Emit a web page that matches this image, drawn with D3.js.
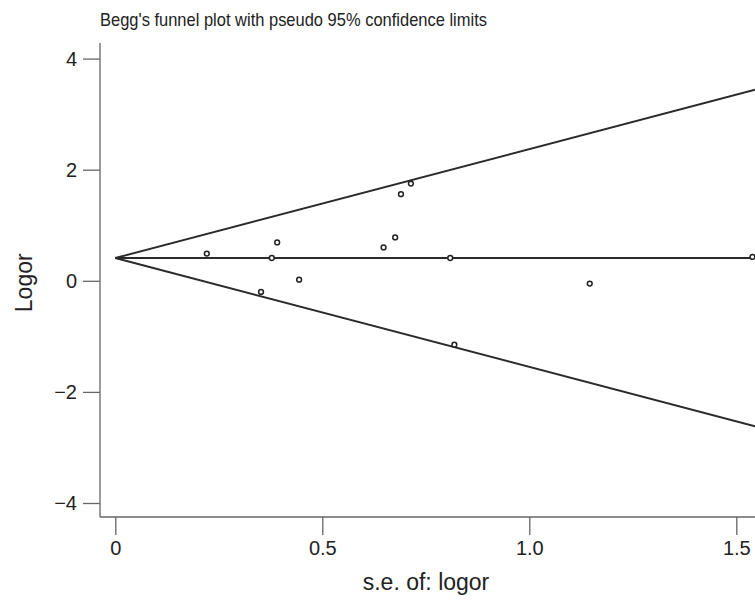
<!DOCTYPE html>
<html>
<head>
<meta charset="utf-8">
<script src="https://d3js.org/d3.v7.min.js"></script>
<style>
  body { margin: 0; background: #fff; }
  text { font-family: "Liberation Sans", Arial, sans-serif; fill: #222; }
</style>
</head>
<body>
<div id="chart"></div>
<script>
// study data
var studySE = [0.221, 0.391, 0.378, 0.352, 0.444, 0.648, 0.676, 0.690, 0.714, 0.809, 0.819, 1.146, 1.539];
var studyLogor = [0.49, 0.69, 0.41, -0.20, 0.02, 0.60, 0.78, 1.56, 1.75, 0.41, -1.15, -0.05, 0.43];
var pooledLogor = 0.41;
var xTicks = [0, 0.5, 1.0, 1.5];
var xTickLabels = ['0', '0.5', '1.0', '1.5'];
var yTicks = [4, 2, 0, -2, -4];

var svgWidth = 755;
var svgHeight = 605;

var svg = d3.select('#chart')
    .append('svg')
    .attr('width', svgWidth)
    .attr('height', svgHeight);

var xScale = d3.scaleLinear()
    .domain([0, 1.5])
    .range([115.3, 736.3]);

var yScale = d3.scaleLinear()
    .domain([-4, 4])
    .range([503, 58.6]);

var xLeft = 100, xRight = 755;
var yTop = 43, yBottom = 517;
var seMax = xScale.invert(xRight);
var fontFam = '"Liberation Sans", Arial, sans-serif';

// title (narrow face in the original, so squeeze it a little)
svg.append('text')
    .attr('x', 100)
    .attr('y', 26)
    .attr('font-size', '19px')
    .attr('textLength', 387)
    .attr('lengthAdjust', 'spacingAndGlyphs')
    .text("Begg's funnel plot with pseudo 95% confidence limits");

// axes
var axisColor = '#666';
var bottomAxis = d3.axisBottom(xScale)
    .tickValues(xTicks)
    .tickFormat((d, i) => xTickLabels[i])
    .tickSize(18)
    .tickPadding(6)
    .tickSizeOuter(0);

var gx = svg.append('g')
    .attr('transform', `translate(0, ${yBottom})`)
    .call(bottomAxis);
gx.select('.domain').remove();
gx.append('line')
    .attr('x1', xLeft).attr('x2', xRight)
    .attr('stroke', axisColor).attr('stroke-width', 1.3);
gx.selectAll('.tick line').attr('stroke', axisColor).attr('stroke-width', 1.3);
gx.selectAll('.tick text')
    .attr('font-size', '20px')
    .attr('font-family', fontFam)
    .attr('fill', '#222');

var leftAxis = d3.axisLeft(yScale)
    .tickValues(yTicks)
    .tickFormat(d => d < 0 ? '\u2212' + Math.abs(d) : d)
    .tickSize(17)
    .tickPadding(6)
    .tickSizeOuter(0);

var gy = svg.append('g')
    .attr('transform', `translate(${xLeft}, 0)`)
    .call(leftAxis);
gy.select('.domain').remove();
gy.append('line')
    .attr('y1', yTop).attr('y2', yBottom)
    .attr('stroke', axisColor).attr('stroke-width', 1.3);
gy.selectAll('.tick line').attr('stroke', axisColor).attr('stroke-width', 1.3);
gy.selectAll('.tick text')
    .attr('font-size', '20px')
    .attr('font-family', fontFam)
    .attr('fill', '#222');

// axis titles
svg.append('text')
    .attr('transform', `translate(32, ${yScale(0) + 2}) rotate(-90)`)
    .attr('text-anchor', 'middle')
    .attr('font-size', '23px')
    .text('Logor');

svg.append('text')
    .attr('x', 426)
    .attr('y', 590)
    .attr('text-anchor', 'middle')
    .attr('font-size', '23px')
    .text('s.e. of: logor');

// funnel lines
var lineColor = '#2a2a2a';
var funnel = [
    [[0, pooledLogor], [seMax, pooledLogor]],
    [[0, pooledLogor], [seMax, pooledLogor + 1.96 * seMax]],
    [[0, pooledLogor], [seMax, pooledLogor - 1.96 * seMax]]
];
var line = d3.line()
    .x(d => xScale(d[0]))
    .y(d => yScale(d[1]));

svg.selectAll('path.funnel')
    .data(funnel)
    .enter()
    .append('path')
    .attr('class', 'funnel')
    .attr('d', line)
    .attr('fill', 'none')
    .attr('stroke', lineColor)
    .attr('stroke-width', 1.9);

// studies
var data = studySE.map((se, i) => ({ se: se, logor: studyLogor[i] }));
svg.selectAll('circle')
    .data(data)
    .enter()
    .append('circle')
    .attr('cx', d => xScale(d.se))
    .attr('cy', d => yScale(d.logor))
    .attr('r', 2.4)
    .attr('fill', '#fff')
    .attr('stroke', '#222')
    .attr('stroke-width', 1.5);
</script>
</body>
</html>
